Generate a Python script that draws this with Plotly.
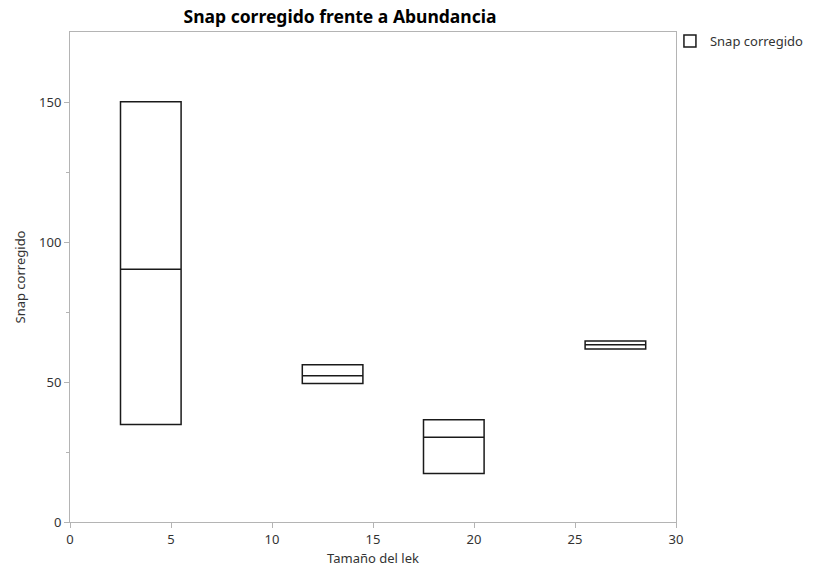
import plotly.graph_objects as go

x_pos = [4, 13, 19, 27]
q1 = [34.8, 49.5, 17.3, 61.8]
median = [90.3, 52.2, 30.3, 63.3]
q3 = [150.1, 56.2, 36.5, 64.6]
series_name = "Snap corregido"

fig = go.Figure()
fig.add_trace(go.Box(
    x=x_pos, q1=q1, median=median, q3=q3,
    lowerfence=q1, upperfence=q3,
    width=3,
    name=series_name,
    fillcolor="rgba(255,255,255,0)",
    line=dict(color="#1a1a1a", width=1.5),
    showlegend=True,
    boxpoints=False,
))

FONT = "Noto Sans"
axis_common = dict(
    showline=True, linecolor="#b4b4b4", linewidth=1, mirror=True,
    ticks="outside", ticklen=5, tickcolor="#b4b4b4",
    showgrid=False, zeroline=False,
    tickfont=dict(family=FONT, size=13, color="#333333"),
)

fig.update_layout(
    width=814, height=571,
    margin=dict(l=70, r=138, t=32, b=49, autoexpand=False),
    paper_bgcolor="white", plot_bgcolor="white",
    title=dict(text="<b>Snap corregido frente a Abundancia</b>", x=340 / 814, xanchor="center",
               y=1 - 17 / 571, yref="container", yanchor="middle",
               font=dict(family=FONT, size=17.5, color="#000000")),
    xaxis=dict(range=[0, 30], tickvals=[0, 5, 10, 15, 20, 25, 30],
               title=dict(text="Tamaño del lek", font=dict(family=FONT, size=13, color="#333333"), standoff=7),
               **axis_common),
    yaxis=dict(range=[0, 175], tickvals=[0, 50, 100, 150],
               minor=dict(tickvals=[25, 75, 125], ticks="outside", ticklen=3, tickcolor="#b4b4b4"),
               title=dict(text="Snap corregido", font=dict(family=FONT, size=13, color="#333333"), standoff=10),
               **axis_common),
    legend=dict(x=0.99, y=1.012, xanchor="left", yanchor="top", itemwidth=30,
                font=dict(family=FONT, size=13, color="#333333"),
                bgcolor="rgba(0,0,0,0)"),
)

fig.write_html("out.html")
